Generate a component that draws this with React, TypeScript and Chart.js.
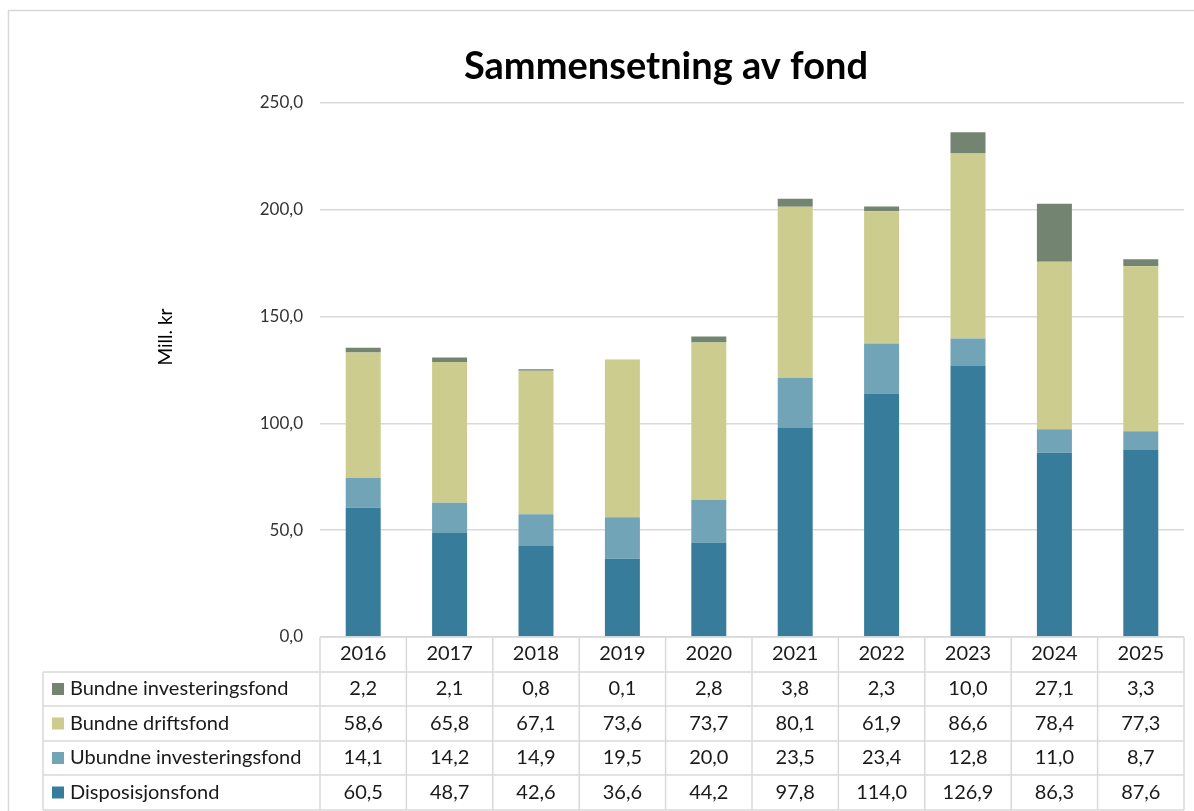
import React, { useEffect, useRef } from "react";
import { Chart, registerables } from "chart.js";

Chart.register(...registerables);

const years = ["2016", "2017", "2018", "2019", "2020", "2021", "2022", "2023", "2024", "2025"];
const disposisjonsfond = [60.5, 48.7, 42.6, 36.6, 44.2, 97.8, 114.0, 126.9, 86.3, 87.6];
const ubundneInvestering = [14.1, 14.2, 14.9, 19.5, 20.0, 23.5, 23.4, 12.8, 11.0, 8.7];
const bundneDrift = [58.6, 65.8, 67.1, 73.6, 73.7, 80.1, 61.9, 86.6, 78.4, 77.3];
const bundneInvestering = [2.2, 2.1, 0.8, 0.1, 2.8, 3.8, 2.3, 10.0, 27.1, 3.3];
const yTicks = [0, 50, 100, 150, 200, 250];

const seriesNames = ["Disposisjonsfond", "Ubundne investeringsfond", "Bundne driftsfond", "Bundne investeringsfond"];
const seriesColors = ["#387C9B", "#70A4B6", "#CBCC8D", "#738571"];
const chartTitle = "Sammensetning av fond";
const yAxisLabel = "Mill. kr";

const FONT = "Lato, 'Noto Sans', sans-serif";
const fmt = (v: number) => v.toFixed(1).replace(".", ",");

const overlay = {
  id: "overlay",
  beforeDraw(chart: any) {
    const ctx = chart.ctx;
    ctx.save();
    ctx.fillStyle = "#ffffff";
    ctx.fillRect(0, 0, chart.width, chart.height);
    ctx.strokeStyle = "#D9D9D9";
    ctx.lineWidth = 1.5;
    ctx.strokeRect(8.5, 10.5, chart.width + 20, chart.height + 20);
    ctx.restore();
  },
  afterDraw(chart: any) {
    const ctx = chart.ctx;
    const xs = chart.scales.x;
    const area = chart.chartArea;
    ctx.save();
    // title
    ctx.fillStyle = "#000000";
    ctx.font = `bold 38px ${FONT}`;
    ctx.textAlign = "center";
    ctx.textBaseline = "middle";
    ctx.fillText(chartTitle, 666, 67);
    // y axis label
    ctx.save();
    ctx.translate(166, 337);
    ctx.rotate(-Math.PI / 2);
    ctx.font = `19px ${FONT}`;
    ctx.fillStyle = "#000000";
    ctx.fillText(yAxisLabel, 0, 0);
    ctx.restore();

    // data table
    const half = (xs.getPixelForValue(1) - xs.getPixelForValue(0)) / 2;
    const left = xs.getPixelForValue(0) - half;
    const right = xs.getPixelForValue(years.length - 1) + half;
    const tableLeft = 43;
    const headerTop = area.bottom;
    const rowTops = [672, 706, 741, 775, 810];
    ctx.strokeStyle = "#D9D9D9";
    ctx.lineWidth = 1.5;
    ctx.beginPath();
    ctx.moveTo(left, headerTop);
    ctx.lineTo(right, headerTop);
    for (const y of rowTops) {
      ctx.moveTo(tableLeft, y);
      ctx.lineTo(right, y);
    }
    for (let i = 0; i <= years.length; i++) {
      const x = left + i * 2 * half;
      ctx.moveTo(x, headerTop);
      ctx.lineTo(x, rowTops[rowTops.length - 1]);
    }
    ctx.moveTo(tableLeft, rowTops[0]);
    ctx.lineTo(tableLeft, rowTops[rowTops.length - 1]);
    ctx.stroke();

    const rows = [
      { name: seriesNames[3], color: seriesColors[3], data: bundneInvestering },
      { name: seriesNames[2], color: seriesColors[2], data: bundneDrift },
      { name: seriesNames[1], color: seriesColors[1], data: ubundneInvestering },
      { name: seriesNames[0], color: seriesColors[0], data: disposisjonsfond },
    ];
    ctx.font = `20px ${FONT}`;
    ctx.textBaseline = "middle";
    rows.forEach((r, ri) => {
      const cy = (rowTops[ri] + rowTops[ri + 1]) / 2;
      ctx.fillStyle = r.color;
      ctx.fillRect(52, cy - 6, 12, 12);
      ctx.fillStyle = "#1a1a1a";
      ctx.textAlign = "left";
      ctx.fillText(r.name, 70, cy);
      ctx.textAlign = "center";
      r.data.forEach((v, i) => {
        ctx.fillText(fmt(v), xs.getPixelForValue(i), cy);
      });
    });
    ctx.restore();
  },
};

export default function App() {
  const ref = useRef<HTMLCanvasElement>(null);
  useEffect(() => {
    if (!ref.current) return;
    const chart = new Chart(ref.current, {
      type: "bar",
      data: {
        labels: years,
        datasets: [
          { label: seriesNames[0], data: disposisjonsfond, backgroundColor: seriesColors[0] },
          { label: seriesNames[1], data: ubundneInvestering, backgroundColor: seriesColors[1] },
          { label: seriesNames[2], data: bundneDrift, backgroundColor: seriesColors[2] },
          { label: seriesNames[3], data: bundneInvestering, backgroundColor: seriesColors[3] },
        ],
      },
      options: {
        animation: false,
        responsive: true,
        maintainAspectRatio: false,
        layout: { padding: { top: 103, left: 0, right: 10, bottom: 0 } },
        datasets: { bar: { barPercentage: 0.405, categoryPercentage: 1 } },
        plugins: { legend: { display: false }, tooltip: { enabled: false }, title: { display: false } },
        scales: {
          x: {
            stacked: true,
            grid: { display: false, drawTicks: false },
            border: { display: false },
            ticks: { color: "#1a1a1a", font: { family: FONT, size: 20 }, padding: 5, maxRotation: 0 },
            afterFit: (s: any) => { s.height = 174; },
          },
          y: {
            stacked: true,
            min: 0,
            max: 250,
            afterBuildTicks: (s: any) => { s.ticks = yTicks.map((v) => ({ value: v })); },
            grid: { color: "#D9D9D9", lineWidth: 1.5, drawTicks: false },
            border: { display: false },
            ticks: {
              color: "#333333",
              font: { family: FONT, size: 17 },
              padding: 17,
              callback: (v: any) => fmt(Number(v)),
            },
            afterFit: (s: any) => { s.width = 320; },
          },
        },
      },
      plugins: [overlay],
    });
    return () => chart.destroy();
  }, []);
  return (
    <div style={{ position: "fixed", left: 0, top: 0, width: 1194, height: 811, background: "#fff" }}>
      <canvas ref={ref} />
    </div>
  );
}
